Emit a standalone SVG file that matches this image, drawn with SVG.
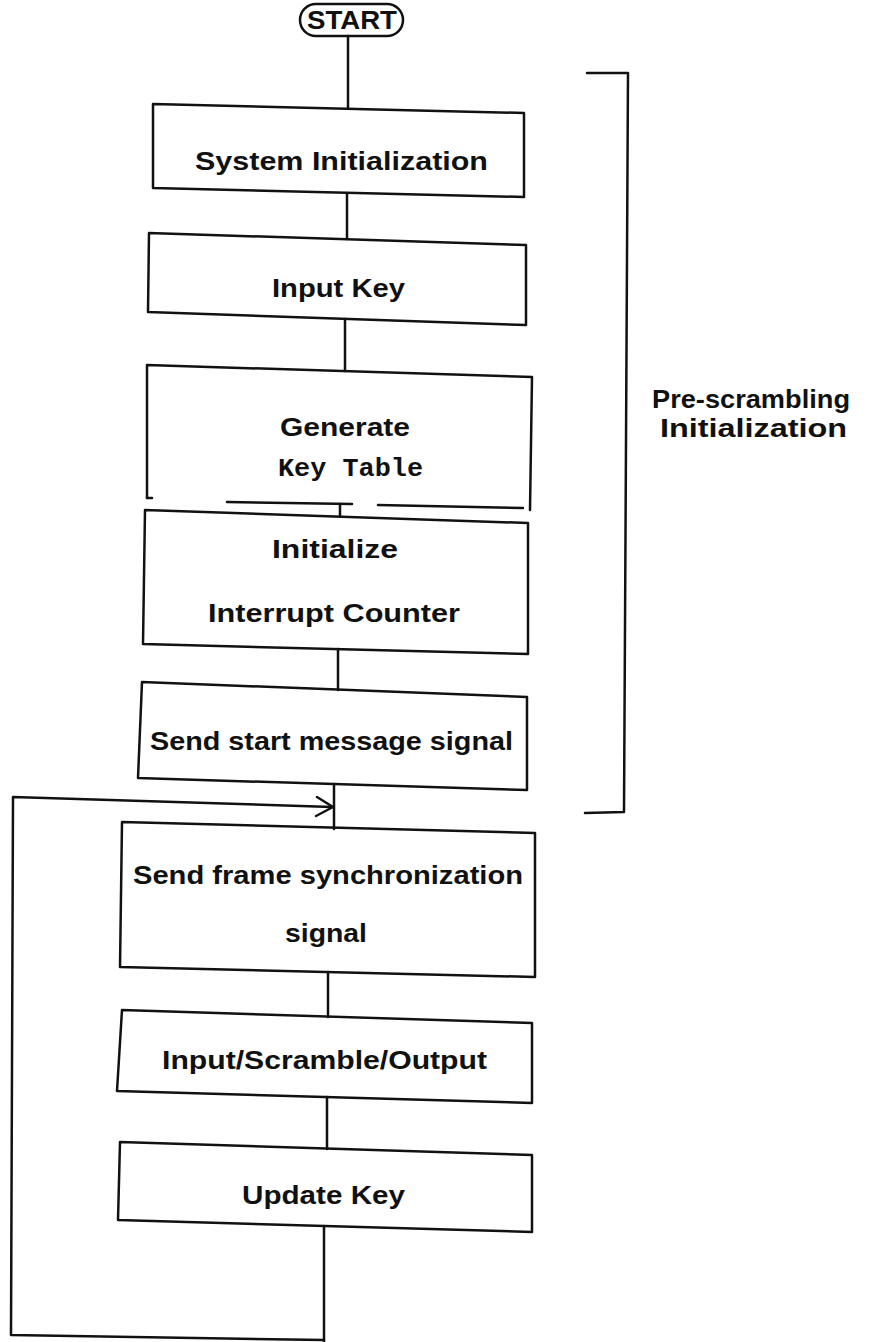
<svg xmlns="http://www.w3.org/2000/svg" width="879" height="1342" viewBox="0 0 879 1342">
<style>
.bx{fill:none;stroke:#111;stroke-width:2.5;stroke-linejoin:round;stroke-linecap:round}
.ln{fill:none;stroke:#111;stroke-width:2.5;stroke-linecap:round;stroke-linejoin:round}
.t{font-family:"Liberation Sans",Arial,sans-serif;font-weight:bold;font-size:25px;fill:#111}
.m{font-family:"Liberation Mono","Courier New",monospace;font-weight:bold;font-size:26px;fill:#111}
</style>
<rect width="879" height="1342" fill="#fff"/>
<g id="connectors">
<path class="ln" d="M348,36 L348,108"/>
<path class="ln" d="M347,193 L347,239"/>
<path class="ln" d="M345,319 L345,371"/>
<path class="ln" d="M340,504 L340,516"/>
<path class="ln" d="M338,649 L338,690"/>
<path class="ln" d="M334,784 L334,829"/>
<path class="ln" d="M328,972 L328,1017"/>
<path class="ln" d="M327,1097 L327,1149"/>
<path class="ln" d="M324,1226 L324,1342"/>
<path class="ln" d="M324,1340 L11,1335 L13,797 L332,807"/>
<path class="ln" d="M317,797 L333,807 L316,816"/>
</g>
<g id="start">
<rect class="bx" x="300" y="4" width="103" height="32" rx="16"/>
<text class="t" x="307" y="29" font-size="22" textLength="90" lengthAdjust="spacingAndGlyphs">START</text>
</g>
<g id="system-init">
<path class="bx" d="M153,104 L524,113 L524,197 L153,188 Z"/>
<text class="t" x="195" y="170" textLength="293" lengthAdjust="spacingAndGlyphs">System Initialization</text>
</g>
<g id="input-key">
<path class="bx" d="M149,233 L526,245 L526,325 L148,312 Z"/>
<text class="t" x="272" y="297" textLength="133" lengthAdjust="spacingAndGlyphs">Input Key</text>
</g>
<g id="generate-key-table">
<path class="bx" d="M147,498 L147,365 L532,377 L530,510"/>
<path class="bx" d="M147,498 L152,498 M227,502 L352,504 M378,505 L523,508"/>
<text class="t" x="280" y="436" textLength="130" lengthAdjust="spacingAndGlyphs">Generate</text>
<text class="m" x="278" y="476" textLength="145" lengthAdjust="spacingAndGlyphs">Key Table</text>
</g>
<g id="init-interrupt-counter">
<path class="bx" d="M145,510 L528,523 L528,654 L143,644 Z"/>
<text class="t" x="272" y="558" textLength="126" lengthAdjust="spacingAndGlyphs">Initialize</text>
<text class="t" x="208" y="622" textLength="252" lengthAdjust="spacingAndGlyphs">Interrupt Counter</text>
</g>
<g id="send-start">
<path class="bx" d="M142,682 L527,697 L527,790 L138,778 Z"/>
<text class="t" x="150" y="750" textLength="363" lengthAdjust="spacingAndGlyphs">Send start message signal</text>
</g>
<g id="send-frame-sync">
<path class="bx" d="M122,822 L535,833 L535,977 L120,967 Z"/>
<text class="t" x="133" y="884" textLength="390" lengthAdjust="spacingAndGlyphs">Send frame synchronization</text>
<text class="t" x="285" y="942" textLength="82" lengthAdjust="spacingAndGlyphs">signal</text>
</g>
<g id="input-scramble-output">
<path class="bx" d="M122,1010 L532,1023 L532,1103 L117,1091 Z"/>
<text class="t" x="162" y="1069" textLength="325" lengthAdjust="spacingAndGlyphs">Input/Scramble/Output</text>
</g>
<g id="update-key">
<path class="bx" d="M120,1142 L532,1155 L532,1232 L118,1220 Z"/>
<text class="t" x="242" y="1204" textLength="163" lengthAdjust="spacingAndGlyphs">Update Key</text>
</g>
<g id="pre-scrambling-bracket">
<path class="ln" d="M587,73 L628,73 L624,812 L585,813"/>
<text class="t" x="652" y="408" textLength="198" lengthAdjust="spacingAndGlyphs">Pre-scrambling</text>
<text class="t" x="660" y="437" textLength="187" lengthAdjust="spacingAndGlyphs">Initialization</text>
</g>
</svg>
